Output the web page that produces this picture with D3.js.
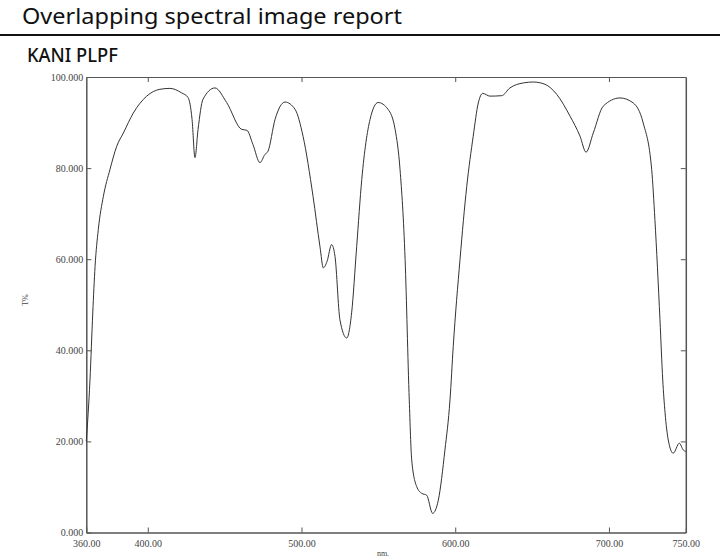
<!DOCTYPE html>
<html>
<head>
<meta charset="utf-8">
<script src="https://cdn.jsdelivr.net/npm/d3@7/dist/d3.min.js"></script>
<style>
  body { margin: 0; background: #fff; }
  svg { display: block; }
  .axis path, .axis line { stroke: #555; }
  .axis text { font-family: "Liberation Serif", serif; font-size: 10px; fill: #444; }
</style>
</head>
<body>
<svg id="chart" width="720" height="560"></svg>
<script>
// spectrum: wavelength (nm) and transmittance (T%)
const wavelength = [360, 362.4, 364.2, 365.7, 367.8, 371.1, 375.4, 379.8, 384.1, 390.6, 399.3, 407.9, 414.4,
    422.1, 426.2, 428.8, 430.7, 432.7, 435.9, 443.7, 451.3, 461.1, 464.5, 468.4, 473, 476.2, 478.2,
    482.8, 489.3, 495.8, 501, 507.5, 512, 514.2, 516.6, 519.6, 521.8, 525, 529.4, 532.6, 535.9,
    539.2, 544.6, 549.8, 556.3, 560.9, 564.1, 567.4, 570.1, 571.7, 574.9, 578.2, 581.4, 585.3,
    589, 593.3, 596.6, 598.7, 603.1, 607.5, 611.7, 615, 617.9, 622.6, 630.2, 635.6, 644.3, 650.8,
    658.4, 666, 674.7, 681.2, 685.1, 689.8, 696.3, 707.2, 715.8, 722.3, 727.8, 729.9, 733.2,
    735, 736.5, 738.6, 741.8, 745.8, 748.4, 750];
const transmittance = [20.0, 33.5, 48.2, 58.4, 66.5, 73.8, 79.7, 84.8, 87.7, 92.1, 95.8, 97.3, 97.5,
    96.5, 95.5, 90.7, 82.3, 88.5, 95.1, 97.6, 94.4, 88.5, 88.3, 85.2, 81.2, 83.0, 83.7,
    90.7, 94.5, 92.9, 87.0, 73.8, 62.8, 58.1, 59.5, 63.2, 60.6, 46.7, 42.7, 48.2, 62.8,
    77.5, 90.7, 94.4, 92.9, 88.5, 79.7, 59.9, 29.1, 15.9, 10.1, 8.6, 8.2, 4.2,
    7.1, 18.1, 29.1, 40.8, 59.9, 76.0, 87.0, 94.3, 96.4, 95.8, 95.9, 97.6, 98.7, 98.9,
    98.4, 96.2, 91.4, 87.0, 83.5, 87.7, 93.6, 95.4, 94.3, 89.9, 79.7, 68.7, 46.7,
    33.5, 26.3, 20.3, 17.4, 19.6, 18.1, 17.8];

const xTicks = [360, 400, 500, 600, 700, 750];
const yTicks = [0, 20, 40, 60, 80, 100];

const svg = d3.select("#chart");
const plot = {left: 86.3, right: 685.8, top: 77, bottom: 532.5};

// header
svg.append("text")
    .attr("x", 22).attr("y", 24)
    .attr("textLength", 380).attr("lengthAdjust", "spacingAndGlyphs")
    .style("font-family", "'Noto Sans', sans-serif").style("font-size", "22.5px").style("fill", "#111")
    .text("Overlapping spectral image report");
svg.append("line")
    .attr("x1", 0).attr("x2", 720).attr("y1", 35).attr("y2", 35)
    .attr("stroke", "#111").attr("stroke-width", 2);
svg.append("text")
    .attr("x", 27).attr("y", 62)
    .attr("textLength", 91).attr("lengthAdjust", "spacingAndGlyphs")
    .style("font-family", "'Noto Sans', sans-serif").style("font-size", "20px").style("font-weight", 500).style("fill", "#111")
    .text("KANI PLPF");

const x = d3.scaleLinear().domain([360, 750]).range([plot.left, plot.right]);
const y = d3.scaleLinear().domain([0, 100]).range([plot.bottom, plot.top]);

const g = svg.append("g");

// axes, ticks pointing inward
g.append("g").attr("class", "axis")
    .attr("transform", `translate(0,${plot.bottom})`)
    .call(d3.axisBottom(x).tickValues(xTicks).tickSizeInner(-5).tickSizeOuter(0)
        .tickPadding(7).tickFormat(d3.format(".2f")))
    .call(a => a.select(".domain").attr("stroke-width", 1.5));
g.append("g").attr("class", "axis")
    .attr("transform", `translate(0,${plot.top})`)
    .call(d3.axisTop(x).tickValues(xTicks.slice(1, -1)).tickSizeInner(-5).tickSizeOuter(0).tickFormat(""))
    .call(a => a.select(".domain").attr("stroke-width", 1.2));
g.append("g").attr("class", "axis")
    .attr("transform", `translate(${plot.left},0)`)
    .call(d3.axisLeft(y).tickValues(yTicks).tickSizeInner(-5).tickSizeOuter(0)
        .tickPadding(3).tickFormat(d3.format(".3f")))
    .call(a => a.select(".domain").attr("stroke-width", 1.5));
g.append("g").attr("class", "axis")
    .attr("transform", `translate(${plot.right},0)`)
    .call(d3.axisRight(y).tickValues(yTicks.slice(1, -1)).tickSizeInner(-5).tickSizeOuter(0).tickFormat(""))
    .call(a => a.select(".domain").attr("stroke-width", 1.5));

// axis titles
svg.append("text")
    .attr("x", 383).attr("y", 556).attr("text-anchor", "middle")
    .style("font-family", "'Liberation Serif', serif").style("font-size", "8px").style("fill", "#444")
    .text("nm.");
svg.append("text")
    .attr("transform", "translate(28,300) rotate(-90)").attr("text-anchor", "middle")
    .style("font-family", "'Liberation Serif', serif").style("font-size", "8px").style("fill", "#444")
    .text("T%");

// spectrum line
const pts = wavelength.map((w, i) => [w, transmittance[i]]);
const line = d3.line()
    .x(d => x(d[0]))
    .y(d => y(d[1]))
    .curve(d3.curveMonotoneX);
g.append("path")
    .datum(pts)
    .attr("d", line)
    .attr("fill", "none")
    .attr("stroke", "#333")
    .attr("stroke-width", 1);
</script>
</body>
</html>
